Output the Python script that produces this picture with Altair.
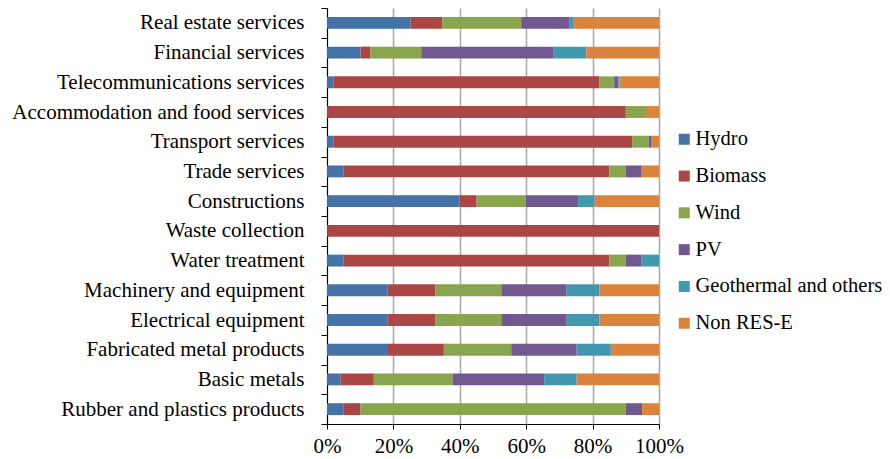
import altair as alt
import pandas as pd

sectors = [
    "Real estate services", "Financial services", "Telecommunications services",
    "Accommodation and food services", "Transport services", "Trade services",
    "Constructions", "Waste collection", "Water treatment",
    "Machinery and equipment", "Electrical equipment", "Fabricated metal products",
    "Basic metals", "Rubber and plastics products",
]
sources = ["Hydro", "Biomass", "Wind", "PV", "Geothermal and others", "Non RES-E"]
colors = ["#4572A7", "#AA4643", "#89A54E", "#71588F", "#4198AF", "#DB843D"]

hydro = [25.2, 10.1, 1.9, 0.0, 1.9, 4.9, 39.9, 0.0, 4.9, 18.3, 18.3, 18.1, 4.1, 4.9]
biomass = [9.5, 3.0, 80.2, 90.0, 90.0, 80.1, 5.2, 100.0, 80.1, 14.4, 14.4, 17.1, 10.0, 5.2]
wind = [23.8, 15.3, 4.4, 5.8, 5.0, 4.9, 14.9, 0.0, 4.9, 19.8, 19.8, 20.3, 23.7, 79.9]
pv = [14.6, 39.9, 1.3, 0.0, 0.9, 4.8, 15.7, 0.0, 4.8, 19.7, 19.7, 19.7, 27.6, 4.9]
geo = [1.0, 9.8, 0.2, 0.0, 0.1, 0.0, 5.0, 0.0, 5.2, 9.8, 9.8, 10.3, 9.8, 0.0]
non_res = [25.9, 21.9, 12.0, 4.2, 2.1, 5.2, 19.4, 0.0, 0.0, 18.0, 18.0, 14.5, 24.8, 5.1]

series = [hydro, biomass, wind, pv, geo, non_res]
rows = []
for si, (src, vals) in enumerate(zip(sources, series)):
    for sec, v in zip(sectors, vals):
        rows.append({"Sector": sec, "Source": src, "Value": v, "Order": si})
df = pd.DataFrame(rows)

FONT = "Liberation Serif"

chart = alt.Chart(df).mark_bar(height={"band": 0.4}).encode(
    y=alt.Y("Sector:N", sort=sectors, title=None,
            scale=alt.Scale(paddingInner=0, paddingOuter=0),
            axis=alt.Axis(labelFont=FONT, labelFontSize=21, labelColor="black",
                          labelLimit=400, labelPadding=17, tickBand="extent",
                          tickSize=6, tickColor="black", domainColor="black",
                          grid=False)),
    x=alt.X("Value:Q", stack="normalize", title=None,
            scale=alt.Scale(domain=[0, 1], nice=False),
            axis=alt.Axis(format=".0%", values=[0, 0.2, 0.4, 0.6, 0.8, 1.0],
                          labelFont=FONT, labelFontSize=21, labelColor="black",
                          labelPadding=6, tickSize=5, tickColor="black",
                          domainColor="black", grid=True, gridColor="#a6a6a6",
                          gridWidth=1.5, labelFlush=False)),
    color=alt.Color("Source:N", sort=sources,
                    scale=alt.Scale(domain=sources, range=colors),
                    legend=alt.Legend(title=None, orient="none", legendX=347,
                                      legendY=121, labelFont=FONT, labelFontSize=20.5,
                                      labelColor="black", symbolType="square",
                                      symbolSize=121, symbolStrokeWidth=0,
                                      rowPadding=15.8, labelOffset=1, padding=0,
                                      labelLimit=300)),
    order=alt.Order("Order:Q", sort="ascending"),
).properties(
    width=332, height=416,
    autosize=alt.AutoSizeParams(type="none"),
    padding={"left": 319, "top": 0, "right": 223, "bottom": 35},
).configure_view(stroke=None)

chart.save("out.html", embed_options={"renderer": "svg", "actions": False})
